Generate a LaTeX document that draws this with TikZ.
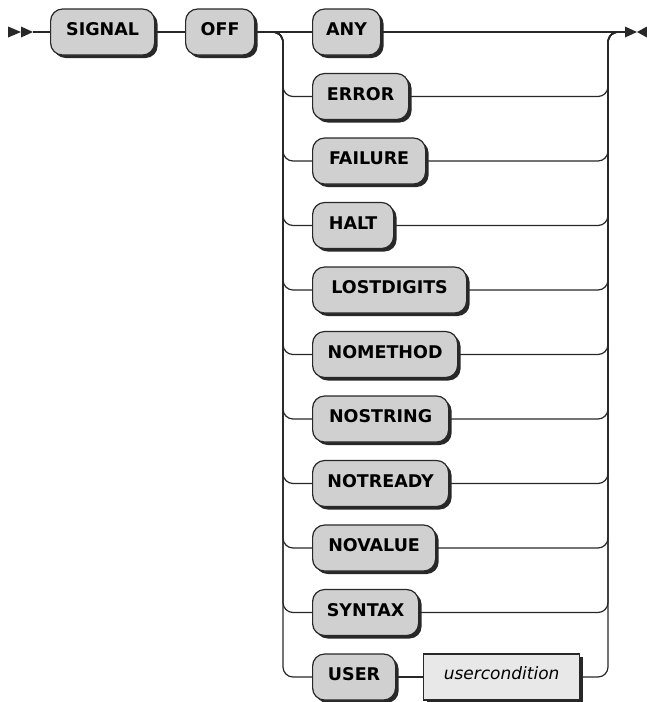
\documentclass[tikz,border=0pt]{standalone}
\usepackage{fontspec}
\setmainfont{DejaVu Sans}
\usetikzlibrary{shadows}
\definecolor{kwfill}{RGB}{208,208,208}
\definecolor{ucfill}{RGB}{232,232,232}
\definecolor{ink}{RGB}{40,40,40}
\tikzset{
  base/.style={draw=ink, line width=1.2pt, anchor=west, minimum height=46pt, inner sep=0pt,
    drop shadow={shadow xshift=3pt, shadow yshift=-3pt, fill=ink, opacity=1}},
  kw/.style={base, rounded corners=12pt, fill=kwfill, font=\fontsize{17.5}{20}\selectfont\bfseries,
    text height=0.72em, text depth=0pt},
  ref/.style={base, fill=ucfill, font=\fontsize{17}{20}\selectfont\itshape,
    text height=0.72em, text depth=0.2em},
  conn/.style={draw=ink, line width=1.2pt, rounded corners=10pt},
  tip/.style={fill=ink}
}
\begin{document}
\begin{tikzpicture}[x=1pt,y=-1pt]
\useasboundingbox (0,0) rectangle (647,702);
% start / end markers
\coordinate (start) at (33,32);
\coordinate (fin) at (625,32);
\coordinate (L) at (283,32);
\coordinate (R) at (608,32);
\fill[tip] (start) -- ++(-12,-5.5) -- ++(0,11) -- cycle;
\fill[tip] ([xshift=-12pt]start) -- ++(-13,-5.5) -- ++(0,11) -- cycle;
\fill[tip] (fin) -- ++(0,-5.5) -- ++(12,5.5) -- ++(-12,5.5) -- cycle;
\fill[tip] ([xshift=22pt]fin) -- ++(0,-5.5) -- ++(-10,5.5) -- ++(10,5.5) -- cycle;
% nodes
\node[kw, minimum width=104pt] (signal) at (50,32) {SIGNAL};
\node[kw, minimum width=69pt] (off) at (185,32) {OFF};
\node[kw, minimum width=68pt] (any) at (312,32) {ANY};
\node[kw, minimum width=96pt] (error) at (312,96.5) {ERROR};
\node[kw, minimum width=113pt] (failure) at (312,161) {FAILURE};
\node[kw, minimum width=81pt] (halt) at (312,225.5) {HALT};
\node[kw, minimum width=154pt] (lostdigits) at (312,290) {LOSTDIGITS};
\node[kw, minimum width=145pt] (nomethod) at (312,354.5) {NOMETHOD};
\node[kw, minimum width=136pt] (nostring) at (312,419) {NOSTRING};
\node[kw, minimum width=136pt] (notready) at (312,483.5) {NOTREADY};
\node[kw, minimum width=123pt] (novalue) at (312,548) {NOVALUE};
\node[kw, minimum width=106pt] (syntax) at (312,612.5) {SYNTAX};
\node[kw, minimum width=83pt] (user) at (312,677) {USER};
\node[ref, minimum width=156pt] (ucond) at (423,677) {usercondition};
% connectors
\draw[conn] (start) -- (signal.west);
\draw[conn] (signal.east) -- (off.west);
\draw[conn] (off.east) -- (any.west);
\draw[conn] (any.east) -- (fin);
\foreach \n in {error,failure,halt,lostdigits,nomethod,nostring,notready,novalue,syntax,user}{
  \draw[conn] (off.east) -- (L) |- (\n.west);
}
\foreach \n in {error,failure,halt,lostdigits,nomethod,nostring,notready,novalue,syntax,ucond}{
  \draw[conn] (\n.east) -| (R) -- (fin);
}
\draw[conn] (user.east) -- (ucond.west);
\end{tikzpicture}
\end{document}
